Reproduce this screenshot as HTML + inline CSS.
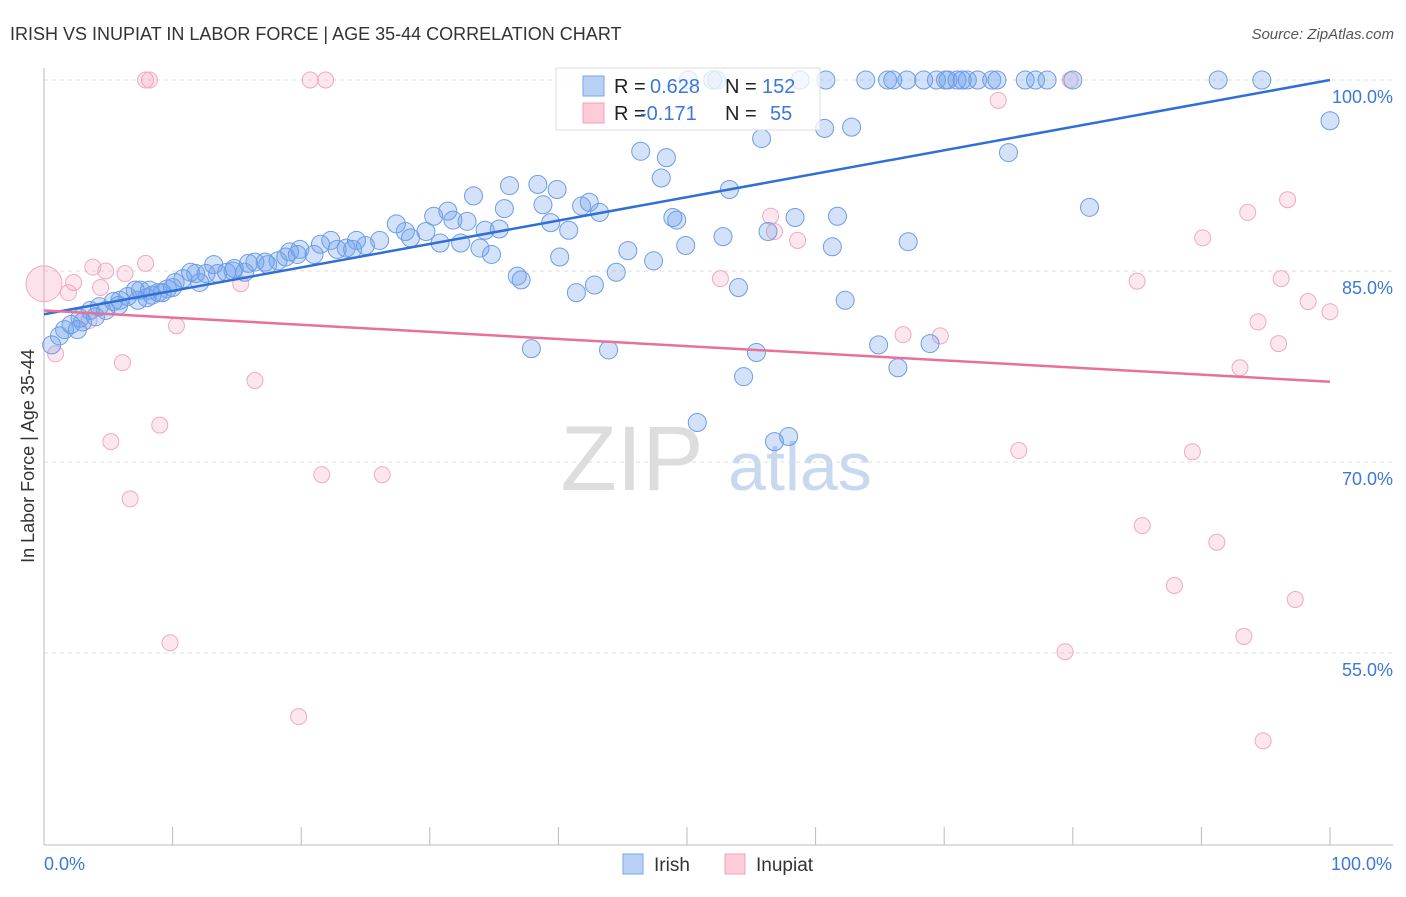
<!DOCTYPE html>
<html><head><meta charset="utf-8"><style>
body{margin:0;background:#fff;font-family:"Liberation Sans",sans-serif;}
svg text{font-family:"Liberation Sans",sans-serif;}
</style></head><body>
<svg id="chart" width="1406" height="892">
<text x="10" y="40" font-size="18" fill="#333">IRISH VS INUPIAT IN LABOR FORCE | AGE 35-44 CORRELATION CHART</text>
<text x="1394" y="39" font-size="15" fill="#555" text-anchor="end" font-style="italic">Source: ZipAtlas.com</text>
<text transform="translate(34,456) rotate(-90)" font-size="18" fill="#333" text-anchor="middle">In Labor Force | Age 35-44</text>
<g id="watermark">
<text x="632" y="490" font-size="92" fill="#ddd" font-family="Liberation Serif" text-anchor="middle">ZIP</text>
<text x="800" y="490" font-size="68" fill="#c7d8f0" text-anchor="middle">atlas</text>
</g>
<g id="grid"></g><g id="axes"></g><g id="pts"></g><g id="lines"></g>
<g>
<rect x="556" y="68" width="264" height="62" fill="rgba(255,255,255,0.75)" stroke="#ddd"/>
<rect x="583" y="76" width="21" height="20" fill="#b8d0f5" stroke="#7aa6e8"/>
<text x="614" y="93" font-size="20" fill="#222">R = </text><text x="650" y="93" font-size="20" fill="#3b78d8">0.628</text>
<text x="725" y="93" font-size="20" fill="#222">N = </text><text x="762" y="93" font-size="20" fill="#3b78d8">152</text>
<rect x="583" y="103" width="21" height="20" fill="#fcccd8" stroke="#f0a0bc"/>
<text x="614" y="120" font-size="20" fill="#222">R = </text><text x="640" y="120" font-size="20" fill="#3b78d8">-0.171</text>
<text x="725" y="120" font-size="20" fill="#222">N = </text><text x="770" y="120" font-size="20" fill="#3b78d8">55</text>
</g>
<g>
<rect x="623" y="854" width="20" height="20" fill="#b8d0f5" stroke="#7aa6e8"/>
<text x="654" y="871" font-size="19" fill="#333">Irish</text>
<rect x="725" y="854" width="20" height="20" fill="#fcccd8" stroke="#f0a0bc"/>
<text x="756" y="871" font-size="19" fill="#333">Inupiat</text>
</g>
</svg>
<script>
const yTicks=[100,85,70,55];
const yTickLabels=["100.0%","85.0%","70.0%","55.0%"];
const xTickLabels=["0.0%","100.0%"];
const irishX=[50.1,52.3,58.8,60.8,63.9,65.6,66.0,67.1,68.4,69.4,70.1,70.3,71.0,71.4,71.8,72.6,73.7,74.1,76.3,77.1,78.0,80.0,91.3,94.7,52.0,
100.0,60.7,62.8,55.8,46.4,48.4,75.0,48.0,53.3,36.2,38.4,39.9,33.4,42.4,38.8,43.2,35.8,31.4,30.3,41.8,81.3,61.7,58.4,48.9,49.2,39.4,40.8,27.4,31.8,32.9,34.3,35.4,56.3,52.8,67.2,61.3,49.9,45.4,47.4,34.8,32.4,30.8,33.9,29.7,28.1,28.5,26.1,25.0,24.0,22.8,21.5,19.9,21.0,22.3,24.3,23.5,18.8,18.2,17.2,16.4,15.9,14.8,14.2,13.2,12.6,11.8,11.4,10.8,10.2,9.6,8.9,8.2,7.5,7.1,6.5,5.9,5.4,4.8,4.3,3.6,2.8,2.1,1.6,1.2,0.6,14.7,13.5,15.6,17.4,19.1,19.7,12.1,10.0,9.2,8.0,7.3,8.4,5.8,4.0,3.0,2.6,40.1,37.1,36.8,44.5,42.8,41.4,37.9,43.9,54.0,62.3,64.9,66.4,68.9,55.4,54.4,50.8,56.8,57.9];
const irishY=[100,100,100,100,100,100,100,100,100,100,100,100,100,100,100,100,100,100,100,100,100,100,100,100,100,
96.8,96.2,96.3,95.4,94.4,93.9,94.3,92.3,91.4,91.7,91.8,91.4,90.9,90.4,90.2,89.6,89.9,89.7,89.3,90.1,90.0,89.3,89.2,89.2,89.0,88.8,88.2,88.7,89.0,88.9,88.2,88.3,88.1,87.7,87.3,86.9,87.0,86.6,85.8,86.3,87.2,87.2,86.8,88.1,88.1,87.6,87.4,87.0,86.7,86.7,87.1,86.7,86.3,87.4,87.4,86.8,86.1,85.8,85.7,85.7,85.6,85.2,84.9,85.5,84.8,84.8,84.9,84.4,84.1,83.6,83.3,83.5,83.5,83.5,83.0,82.7,82.6,81.9,82.2,81.9,81.3,80.8,80.4,79.9,79.2,85.0,84.8,84.9,85.5,86.5,86.3,84.1,83.7,83.3,82.9,82.7,83.1,82.3,81.4,81.0,80.4,86.1,84.3,84.6,84.9,83.9,83.3,78.9,78.8,83.7,82.7,79.2,77.4,79.3,78.6,76.7,73.1,71.6,72.0];
const inupiatX=[7.9,8.2,20.7,21.9,79.8,74.2,96.7,93.6,56.5,56.8,58.6,90.1,3.8,4.8,2.3,7.9,6.3,1.9,4.4,15.3,52.6,85.0,96.2,98.3,100,94.4,10.3,66.8,69.7,96.0,0.9,3.5,6.1,16.4,93.0,9.0,5.2,75.8,89.3,21.6,26.3,6.7,85.4,91.2,87.9,97.3,93.3,79.4,9.8,19.8,94.8];
const inupiatY=[100,100,100,100,100,98.4,90.6,89.6,89.3,88.1,87.4,87.6,85.3,85.0,84.1,85.6,84.8,83.3,83.7,84.0,84.4,84.2,84.4,82.6,81.8,81.0,80.7,80.0,79.9,79.3,78.5,81.1,77.8,76.4,77.4,72.9,71.6,70.9,70.8,69.0,69.0,67.1,65.0,63.7,60.3,59.2,56.3,55.1,55.8,50.0,48.1];
const irishTrend=[81.6,100];
const inupiatTrend=[81.9,76.3];
const NS="http://www.w3.org/2000/svg";
const X=v=>44+v*12.86, Y=v=>80+(100-v)*12.733;
function mk(tag,attrs,parent){const e=document.createElementNS(NS,tag);for(const k in attrs)e.setAttribute(k,attrs[k]);document.getElementById(parent).appendChild(e);return e;}
yTicks.forEach((t,i)=>{
 const l=mk('line',{x1:44,x2:1393,y1:Y(t),y2:Y(t),stroke:'#ddd','stroke-dasharray':'4,4'},'grid');
 
 
 const tx=mk('text',{x:1393,y:Y(t)+23,'font-size':18,fill:'#3b78d8','text-anchor':'end'},'grid');
 tx.textContent=yTickLabels[i];
 
 
});
mk('line',{x1:44,x2:44,y1:68,y2:845,stroke:'#bbb'},'axes');
mk('line',{x1:44,x2:1393,y1:845,y2:845,stroke:'#bbb'},'axes');
for(let i=0;i<=10;i++){mk('line',{x1:X(i*10),x2:X(i*10),y1:827,y2:845,stroke:'#bbb'},'axes');}
[[0,'start'],[100,'end']].forEach((p,i)=>{const t=mk('text',{x:X(p[0])+(i?62:0),y:870,'font-size':18,fill:'#3b78d8','text-anchor':p[1]},'axes');t.textContent=xTickLabels[i];
 
 });
inupiatX.forEach((x,i)=>{const c=mk('circle',{cx:X(x),cy:Y(inupiatY[i]),r:i==-1?18:8,fill:'rgba(245,160,190,0.25)',stroke:'#f2a8c2','stroke-width':1},'pts');
 
 });
const big=mk('circle',{cx:X(0),cy:Y(84),r:18,fill:'rgba(245,160,190,0.3)',stroke:'#f2a8c2'},'pts');


irishX.forEach((x,i)=>{const c=mk('circle',{cx:X(x),cy:Y(irishY[i]),r:9,fill:'rgba(110,160,235,0.3)',stroke:'#6d9de6','stroke-width':1},'pts');
 
 });
const l1=mk('line',{x1:X(0),y1:Y(irishTrend[0]),x2:X(100),y2:Y(irishTrend[1]),stroke:'#2f6fd6','stroke-width':2.5},'lines');


const l2=mk('line',{x1:X(0),y1:Y(inupiatTrend[0]),x2:X(100),y2:Y(inupiatTrend[1]),stroke:'#e8709a','stroke-width':2.5},'lines');


</script>
</body></html>
